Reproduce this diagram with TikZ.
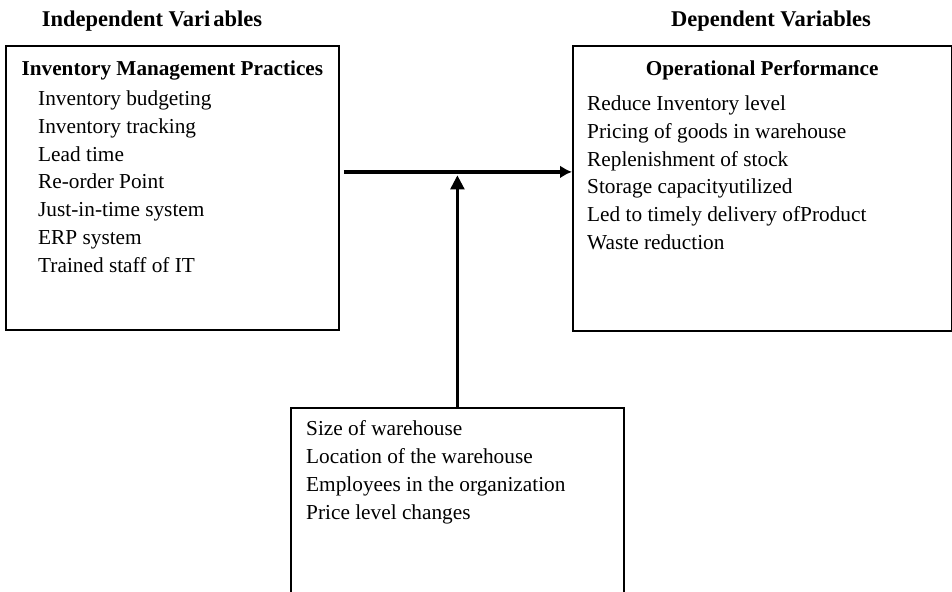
\documentclass[tikz,border=0pt]{standalone}
\usepackage{fontspec}
\setmainfont{Liberation Serif}
\usetikzlibrary{positioning,arrows.meta}
\tikzset{
  varbox/.style = {rectangle, draw=black, line width=1.8pt, inner sep=0pt,
                   anchor=north west},
  headtext/.style = {font=\fontsize{22.5}{27}\selectfont\bfseries, anchor=base},
  titletext/.style = {font=\fontsize{21.2}{26}\selectfont\bfseries, anchor=base},
  itemlist/.style = {font=\fontsize{21.3}{27.8}\selectfont, align=left,
                     inner sep=0pt, anchor=north west},
  arrow/.style = {line width=4pt, -{Latex[length=12pt,width=13pt]}},
  modarrow/.style = {line width=2.5pt, -{Triangle[length=14pt,width=14pt]}}
}

\begin{document}
\begin{tikzpicture}[x=1pt,y=-1pt]

\useasboundingbox (0,0) rectangle (952,591);
\clip (0,0) rectangle (952,591);

% headings
\node (indhead) [headtext] at (152,27) {Independent Vari\kern3pt ables};
\node (dephead) [headtext] at (771,27) {Dependent Variables};

% boxes
\node (ind) [varbox, minimum width=333pt, minimum height=284pt] at (5,45) {};
\node (dep) [varbox, minimum width=378.5pt, minimum height=285pt] at (572,45) {};
\node (mod) [varbox, minimum width=333pt, minimum height=220pt] at (290,407) {};

% box contents
\node (indtitle) [titletext] at (ind.north |- 0,76) {Inventory Management Practices};
\node (deptitle) [titletext] at (dep.north |- 0,76) {Operational Performance};

\node (indlist) [itemlist] at (38,90.5) {Inventory budgeting\\ Inventory tracking\\
  Lead time\\ Re-order Point\\ Just-in-time system\\ ERP system\\ Trained staff of IT};
\node (deplist) [itemlist] at (587,95.5) {Reduce Inventory level\\
  Pricing of goods in warehouse\\ Replenishment of stock\\
  Storage capacityutilized\\ Led to timely delivery ofProduct\\ Waste reduction};
\node (modlist) [itemlist] at (306,420.5) {Size of warehouse\\
  Location of the warehouse\\ Employees in the organization\\ Price level changes};

% connectors
\draw[arrow] ([shift={(4pt,16pt)}]ind.east) -- coordinate[pos=0.5] (hmid)
  ([yshift=16.5pt]dep.west);
\draw[modarrow, shorten >=3.5pt] (mod.north) -- (mod.north |- hmid);

\end{tikzpicture}
\end{document}
